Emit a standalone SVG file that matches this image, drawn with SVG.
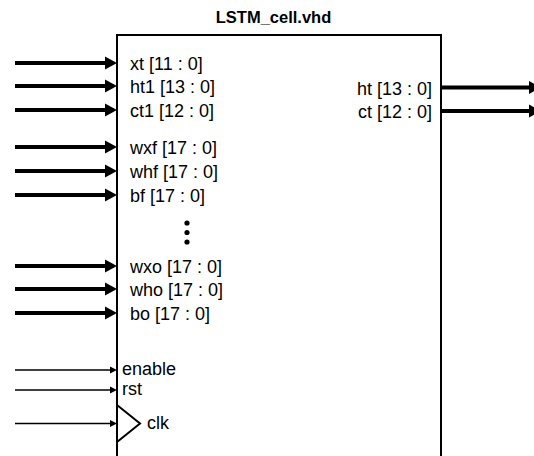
<svg xmlns="http://www.w3.org/2000/svg" width="534" height="456" viewBox="0 0 534 456">
<style>
  .lbl { font-family: "Liberation Sans", Arial, sans-serif; font-size: 18px; fill: #000; }
  .title { font-family: "Liberation Sans", Arial, sans-serif; font-size: 16.5px; font-weight: bold; fill: #000; }
  .bus { stroke: #000; stroke-width: 4; fill: none; marker-end: url(#bigHead); }
  .sig { stroke: #000; stroke-width: 1.6; fill: none; marker-end: url(#smallHead); }
</style>
<defs>
  <marker id="bigHead" markerUnits="userSpaceOnUse" markerWidth="13" markerHeight="14" refX="0" refY="7" orient="auto" overflow="visible">
    <path d="M0,0.5 L12,7 L0,13.5 Z" fill="#000"/>
  </marker>
  <marker id="smallHead" markerUnits="userSpaceOnUse" markerWidth="8" markerHeight="8" refX="0" refY="4" orient="auto" overflow="visible">
    <path d="M0,0.5 L7,4 L0,7.5 Z" fill="#000"/>
  </marker>
</defs>
<rect width="534" height="456" fill="#fff"/>
<text class="title" x="273.5" y="23" text-anchor="middle">LSTM_cell.vhd</text>
<g id="lstm_cell">
  <rect x="117" y="35" width="324" height="440" fill="#fff" stroke="#000" stroke-width="2"/>
  <polyline points="117,405 140,423.5 117,442" fill="none" stroke="#000" stroke-width="2"/>
  <text class="lbl" x="130" y="69.5">xt [11 : 0]</text>
  <text class="lbl" x="130" y="92.5">ht1 [13 : 0]</text>
  <text class="lbl" x="130" y="116.5">ct1 [12 : 0]</text>
  <text class="lbl" x="130" y="153.5">wxf [17 : 0]</text>
  <text class="lbl" x="130" y="177.5">whf [17 : 0]</text>
  <text class="lbl" x="130" y="201.5">bf [17 : 0]</text>
  <circle cx="187" cy="223" r="2.6" fill="#000"/>
  <circle cx="187" cy="232.5" r="2.6" fill="#000"/>
  <circle cx="187" cy="242" r="2.6" fill="#000"/>
  <text class="lbl" x="130" y="272.5">wxo [17 : 0]</text>
  <text class="lbl" x="130" y="295.5">who [17 : 0]</text>
  <text class="lbl" x="130" y="319.5">bo [17 : 0]</text>
  <text class="lbl" x="122" y="375">enable</text>
  <text class="lbl" x="122" y="395">rst</text>
  <text class="lbl" x="147" y="428.5">clk</text>
  <text class="lbl" x="432" y="94.5" text-anchor="end">ht [13 : 0]</text>
  <text class="lbl" x="432" y="117.5" text-anchor="end">ct [12 : 0]</text>
</g>
<g id="connectors">
  <line class="bus" x1="15" y1="63" x2="105" y2="63"/>
  <line class="bus" x1="15" y1="86" x2="105" y2="86"/>
  <line class="bus" x1="15" y1="110" x2="105" y2="110"/>
  <line class="bus" x1="15" y1="147" x2="105" y2="147"/>
  <line class="bus" x1="15" y1="171" x2="105" y2="171"/>
  <line class="bus" x1="15" y1="195" x2="105" y2="195"/>
  <line class="bus" x1="15" y1="266" x2="105" y2="266"/>
  <line class="bus" x1="15" y1="289" x2="105" y2="289"/>
  <line class="bus" x1="15" y1="313" x2="105" y2="313"/>
  <line class="sig" x1="15" y1="370" x2="110" y2="370"/>
  <line class="sig" x1="15" y1="390" x2="110" y2="390"/>
  <line class="sig" x1="15" y1="423.5" x2="110" y2="423.5"/>
  <line class="bus" x1="442" y1="87.5" x2="529" y2="87.5"/>
  <line class="bus" x1="442" y1="111" x2="529" y2="111"/>
</g>
</svg>
